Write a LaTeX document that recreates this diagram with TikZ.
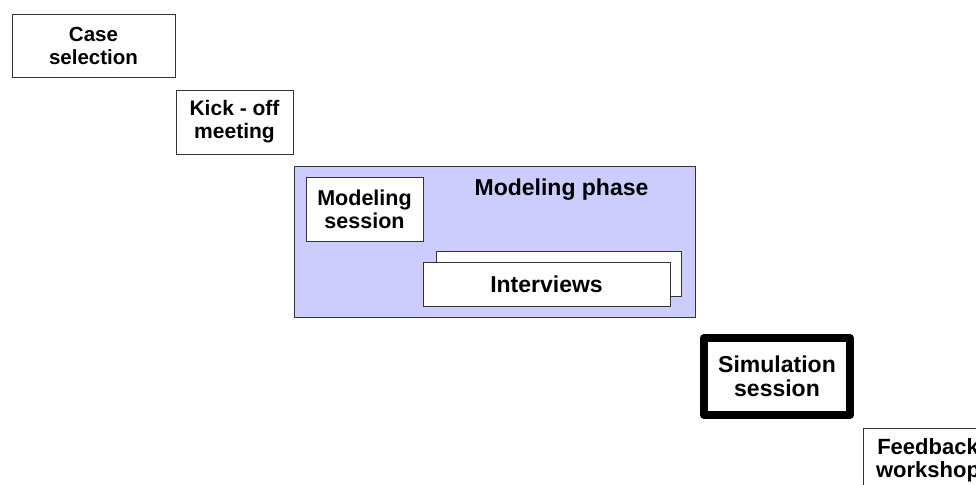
\documentclass[tikz,border=0pt]{standalone}
\usepackage{fontspec}
\setmainfont{Liberation Sans}
\usepackage{tikz}

\begin{document}
\begin{tikzpicture}[x=1pt,y=-1pt,
	stage/.style={draw=black!80, line width=0.9pt, fill=white, align=center, inner sep=0pt,
		font=\fontsize{21}{23}\selectfont\bfseries},
	keystage/.style={stage, draw=black, line width=8pt, line join=round},
	bigtext/.style={font=\fontsize{23}{24}\selectfont\bfseries}]

	\clip (0,0) rectangle (976,484);
	\fill[white] (0,0) rectangle (976,484);

	% Steps before modeling
	\node[stage, minimum width=163pt, minimum height=63pt, font=\fontsize{20.5}{23}\selectfont\bfseries] (casesel) at (93.5,45.5) {Case\\selection};
	\node[stage, minimum width=117pt, minimum height=64pt] (kickoff) at (234.5,122) {Kick - off\\meeting};

	% Modeling phase
	\node[stage, fill={rgb,255:red,204;green,204;blue,255}, minimum width=401pt, minimum height=151pt] (phase) at (494.5,241.5) {};
	\node[bigtext, anchor=base] (phasetitle) at (561.5,195) {Modeling phase};
	\node[stage, minimum width=117pt, minimum height=64pt, font=\fontsize{21.5}{23}\selectfont\bfseries] (modsession) at (364.5,209) {Modeling\\session};
	\node[stage, minimum width=245pt, minimum height=45pt] (interviewsback) at (558.5,273.5) {};
	\node[stage, bigtext, minimum width=247pt, minimum height=44pt] (interviews) at (546.5,284) {Interviews};

	% Steps after modeling
	\node[keystage, bigtext, minimum width=146pt, minimum height=77pt] (simsession) at (777,376.5) {Simulation\\session};
	\node[stage, font=\fontsize{22}{23}\selectfont\bfseries, minimum width=130pt, minimum height=64pt] (feedback) at (928,460) {Feedback\\workshop};

\end{tikzpicture}
\end{document}
